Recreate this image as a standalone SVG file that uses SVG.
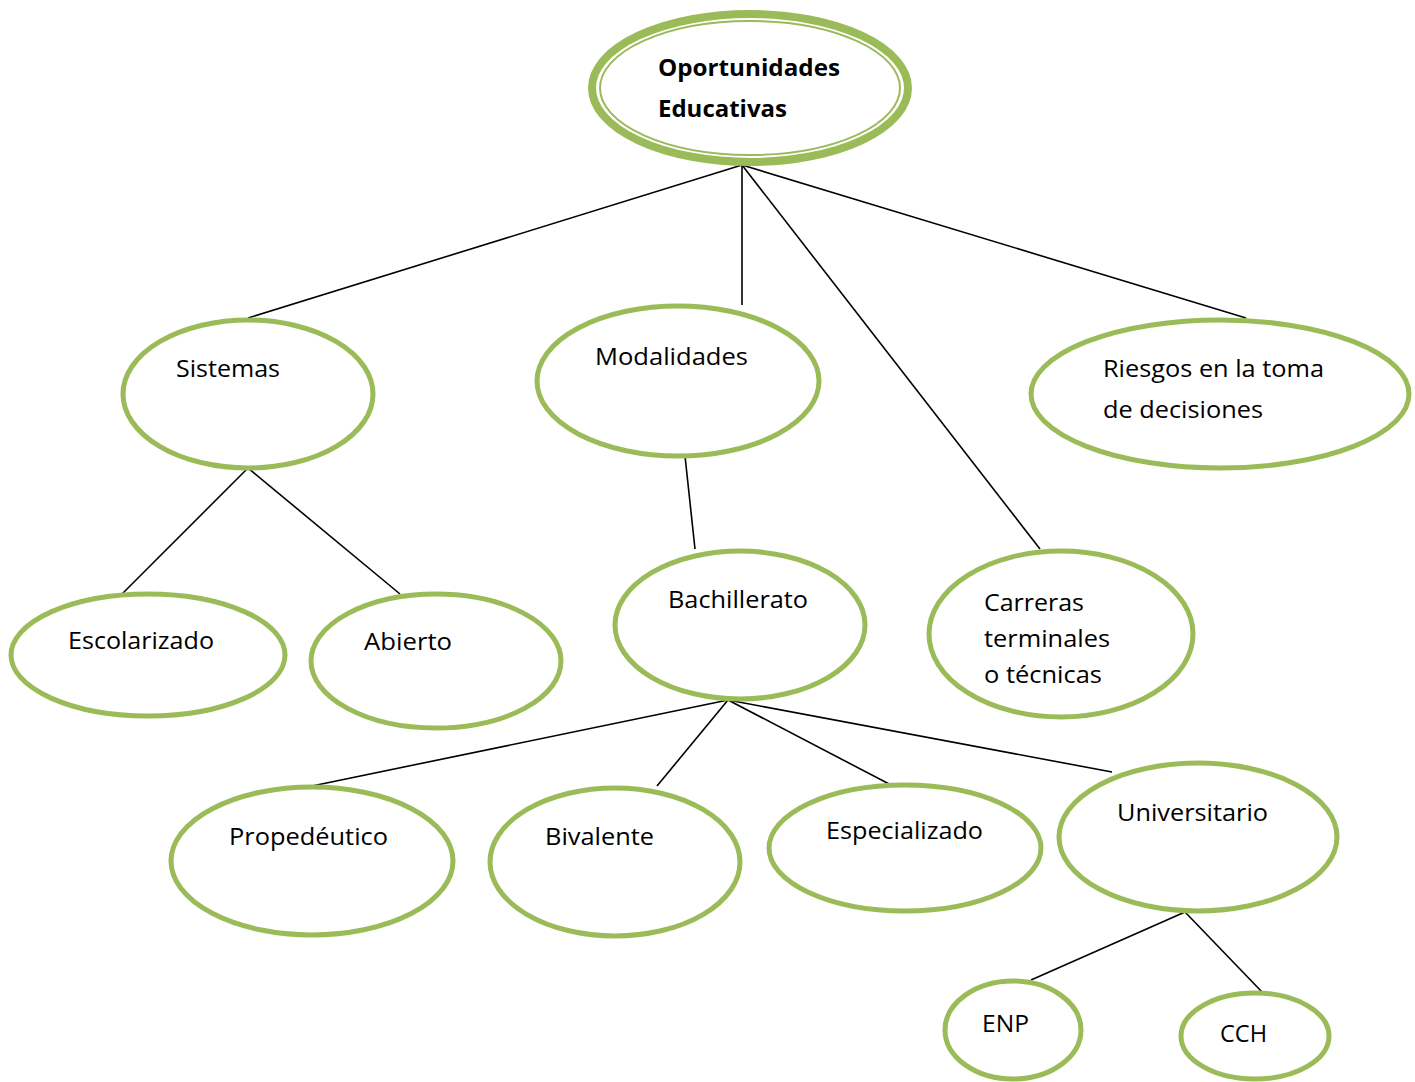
<svg xmlns="http://www.w3.org/2000/svg" width="1415" height="1082" viewBox="0 0 1415 1082">
<style>
.n{fill:#fff;stroke:#9BBB59;stroke-width:5}
.t{font-family:"Open Sans","Noto Sans",sans-serif;font-size:23px;fill:#000}
.b{font-weight:bold}
.c line{stroke:#000;stroke-width:1.6}
</style>
<rect width="1415" height="1082" fill="#fff"/>
<g class="c" id="connectors">
<line x1="742" y1="165" x2="248" y2="318"/>
<line x1="742" y1="165" x2="742" y2="305"/>
<line x1="742" y1="165" x2="1040" y2="549"/>
<line x1="742" y1="165" x2="1246" y2="318"/>
<line x1="248" y1="468" x2="122" y2="594"/>
<line x1="248" y1="468" x2="400" y2="594"/>
<line x1="685" y1="456" x2="695" y2="549"/>
<line x1="728" y1="700" x2="312" y2="786"/>
<line x1="728" y1="700" x2="657" y2="786"/>
<line x1="728" y1="700" x2="893" y2="786"/>
<line x1="728" y1="700" x2="1112" y2="772"/>
<line x1="1185" y1="912" x2="1031" y2="980"/>
<line x1="1185" y1="912" x2="1263" y2="993"/>
</g>
<g id="n-root">
<ellipse cx="750" cy="88" rx="158" ry="74" fill="#fff" stroke="#9BBB59" stroke-width="8"/>
<ellipse cx="750" cy="88" rx="150" ry="67" fill="none" stroke="#9BBB59" stroke-width="2"/>
<text class="t b" x="658" y="76" textLength="182" lengthAdjust="spacingAndGlyphs">Oportunidades</text>
<text class="t b" x="658" y="117" textLength="129" lengthAdjust="spacingAndGlyphs">Educativas</text>
</g>
<g id="n-sistemas"><ellipse class="n" cx="248" cy="394" rx="125" ry="74"/>
<text class="t" x="176" y="377" textLength="104" lengthAdjust="spacingAndGlyphs">Sistemas</text></g>
<g id="n-modalidades"><ellipse class="n" cx="678" cy="381" rx="141" ry="75"/>
<text class="t" x="595" y="365" textLength="153" lengthAdjust="spacingAndGlyphs">Modalidades</text></g>
<g id="n-riesgos"><ellipse class="n" cx="1220" cy="394" rx="189" ry="74"/>
<text class="t" x="1103" y="377" textLength="221" lengthAdjust="spacingAndGlyphs">Riesgos en la toma</text>
<text class="t" x="1103" y="418" textLength="160" lengthAdjust="spacingAndGlyphs">de decisiones</text></g>
<g id="n-escolarizado"><ellipse class="n" cx="148" cy="655" rx="137" ry="61"/>
<text class="t" x="68" y="649" textLength="146" lengthAdjust="spacingAndGlyphs">Escolarizado</text></g>
<g id="n-abierto"><ellipse class="n" cx="436" cy="661" rx="125" ry="67"/>
<text class="t" x="364" y="650" textLength="88" lengthAdjust="spacingAndGlyphs">Abierto</text></g>
<g id="n-bachillerato"><ellipse class="n" cx="740" cy="625" rx="125" ry="74"/>
<text class="t" x="668" y="608" textLength="140" lengthAdjust="spacingAndGlyphs">Bachillerato</text></g>
<g id="n-carreras"><ellipse class="n" cx="1061" cy="634" rx="132" ry="83"/>
<text class="t" x="984" y="611" textLength="100" lengthAdjust="spacingAndGlyphs">Carreras</text>
<text class="t" x="984" y="647" textLength="126" lengthAdjust="spacingAndGlyphs">terminales</text>
<text class="t" x="984" y="683" textLength="118" lengthAdjust="spacingAndGlyphs">o técnicas</text></g>
<g id="n-propedeutico"><ellipse class="n" cx="312" cy="861" rx="141" ry="74"/>
<text class="t" x="229" y="845" textLength="159" lengthAdjust="spacingAndGlyphs">Propedéutico</text></g>
<g id="n-bivalente"><ellipse class="n" cx="615" cy="862" rx="125" ry="74"/>
<text class="t" x="545" y="845" textLength="109" lengthAdjust="spacingAndGlyphs">Bivalente</text></g>
<g id="n-especializado"><ellipse class="n" cx="905" cy="848" rx="136" ry="63"/>
<text class="t" x="826" y="839" textLength="157" lengthAdjust="spacingAndGlyphs">Especializado</text></g>
<g id="n-universitario"><ellipse class="n" cx="1198" cy="837" rx="139" ry="74"/>
<text class="t" x="1117" y="821" textLength="151" lengthAdjust="spacingAndGlyphs">Universitario</text></g>
<g id="n-enp"><ellipse class="n" cx="1013" cy="1030" rx="68" ry="49"/>
<text class="t" x="982" y="1032" textLength="47" lengthAdjust="spacingAndGlyphs">ENP</text></g>
<g id="n-cch"><ellipse class="n" cx="1255" cy="1036" rx="74" ry="43"/>
<text class="t" x="1220" y="1042" textLength="47" lengthAdjust="spacingAndGlyphs">CCH</text></g>
</svg>
